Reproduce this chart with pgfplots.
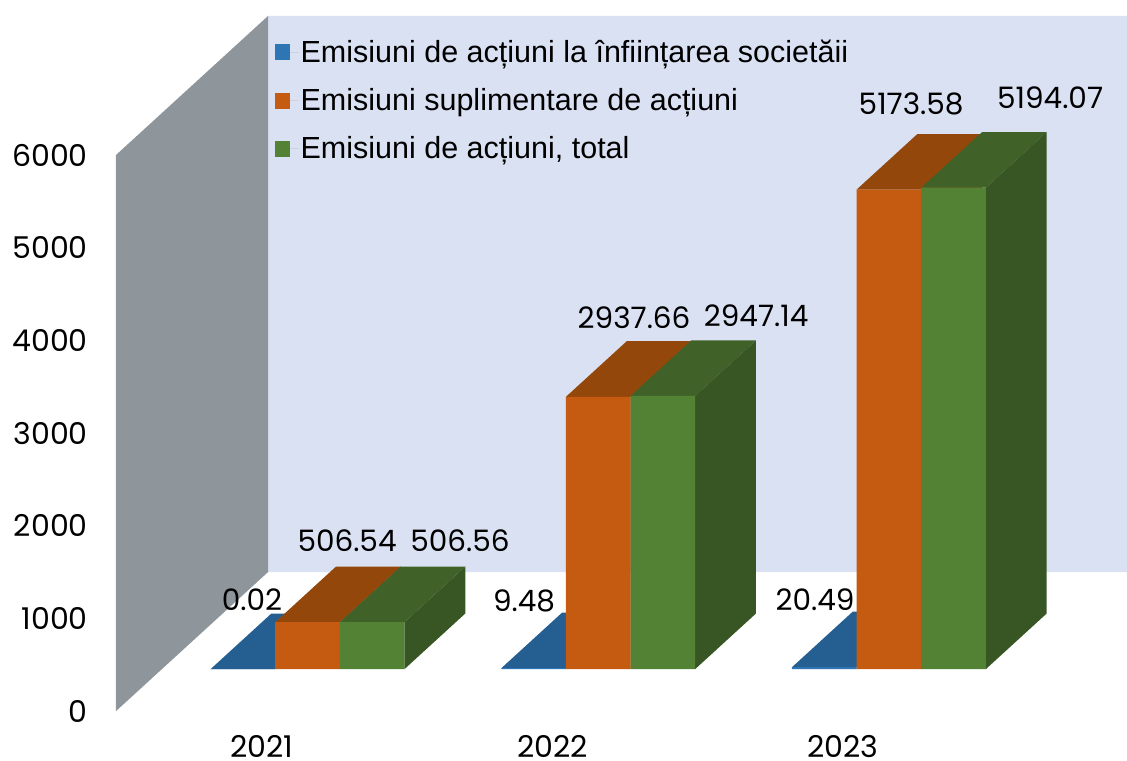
\documentclass[border=0pt]{standalone}
\usepackage{fontspec}
\setmainfont{Poppins}
\newfontfamily\legfont{Liberation Sans}
\usepackage{pgfplots}
\pgfplotsset{compat=1.18}

\definecolor{wallback}{HTML}{DAE1F2}
\definecolor{wallside}{HTML}{8E959B}
\definecolor{bluef}{HTML}{2E75B6}
\definecolor{bluet}{HTML}{255E91}
\definecolor{orangef}{HTML}{C55A11}
\definecolor{oranget}{HTML}{93470B}
\definecolor{greenf}{HTML}{548235}
\definecolor{greent}{HTML}{406128}
\definecolor{greens}{HTML}{375623}

% one box: x0, x1, value, front, top, right side colour
\newcommand{\onebar}[6]{%
  \addplot3[forget plot, draw=none, fill=#5] coordinates {(#1,0.302,#3) (#2,0.302,#3) (#2,0.702,#3) (#1,0.702,#3) (#1,0.302,#3)};
  \addplot3[forget plot, draw=none, fill=#6] coordinates {(#2,0.302,0) (#2,0.702,0) (#2,0.702,#3) (#2,0.302,#3) (#2,0.302,0)};
  \addplot3[forget plot, draw=none, fill=#4] coordinates {(#1,0.302,0) (#2,0.302,0) (#2,0.302,#3) (#1,0.302,#3) (#1,0.302,0)};
}

\begin{document}
\begin{tikzpicture}
\begin{axis}[
  x={(290.65pt,0pt)}, y={(152pt,139pt)}, z={(0pt,0.092667pt)},
  xmin=2020.499, xmax=2023.454, ymin=0, ymax=1, zmin=0, zmax=6000,
  clip=false,
  axis line style={draw=none},
  major tick length=0pt,
  xtick={2021,2022,2023}, ytick=\empty, ztick={0,1000,2000,3000,4000,5000,6000},
  zticklabel pos=left,
  xticklabel pos=lower,
  scaled ticks=false,
  tick label style={font=\fontsize{30}{32}\selectfont, inner sep=0pt, /pgf/number format/assume math mode=true,
    /pgf/number format/fixed, /pgf/number format/1000 sep={}},
  xticklabel style={anchor=center, yshift=-37pt, text height=18pt, text depth=0pt},
  zticklabel style={anchor=east, xshift=-28pt},
  legend image code/.code={\fill[#1, draw=none] (0pt,-8pt) rectangle (15pt,8pt); \path[draw=none] (0pt,0pt) -- (24pt,0pt);},
  legend style={draw=none, fill=none, at={(axis cs:2021.044,0,7262)}, anchor=north west,
    inner sep=0pt, font=\legfont\fontsize{30.5}{34}\selectfont, row sep=20.5pt,
    legend cell align=left},
]
% walls
\addplot3[forget plot, draw=none, fill=wallback] coordinates {(2020.499,1,0) (2023.454,1,0) (2023.454,1,6000) (2020.499,1,6000) (2020.499,1,0)};
\addplot3[forget plot, draw=none, fill=wallside] coordinates {(2020.499,0,0) (2020.499,1,0) (2020.499,1,6000) (2020.499,0,6000) (2020.499,0,0)};
% 2021
\onebar{2020.6665}{2020.8888}{0.02}{bluef}{bluet}{bluet}
\onebar{2020.8888}{2021.1112}{506.54}{orangef}{oranget}{oranget}
\onebar{2021.1112}{2021.3335}{506.56}{greenf}{greent}{greens}
% 2022
\onebar{2021.6665}{2021.8888}{9.48}{bluef}{bluet}{bluet}
\onebar{2021.8888}{2022.1112}{2937.66}{orangef}{oranget}{oranget}
\onebar{2022.1112}{2022.3335}{2947.14}{greenf}{greent}{greens}
% 2023
\onebar{2022.6665}{2022.8888}{20.49}{bluef}{bluet}{bluet}
\onebar{2022.8888}{2023.1112}{5173.58}{orangef}{oranget}{oranget}
\onebar{2023.1112}{2023.3335}{5194.07}{greenf}{greent}{greens}
\addlegendimage{fill=bluef}
\addlegendentry{Emisiuni de acțiuni la înființarea societăii}
\addlegendimage{fill=orangef}
\addlegendentry{Emisiuni suplimentare de acțiuni}
\addlegendimage{fill=greenf}
\addlegendentry{Emisiuni de acțiuni, total}
\coordinate (tl) at (axis cs:2020.100,0,7672.6);
\coordinate (br) at (axis cs:2023.977,0,-528.8);
\end{axis}
\pgfresetboundingbox
\useasboundingbox (tl) rectangle (br);
% data labels, placed in picture pixels from the top left corner
\begin{scope}[shift={(tl)}, x=1pt, y=-1pt, every node/.style={font=\fontsize{29.5}{32}\selectfont, inner sep=0pt}]
\node at (252,600) {0.02};
\node at (347,541) {506.54};
\node at (460,541) {506.56};
\node at (524,601) {9.48};
\node at (634,318) {2937.66};
\node at (756,316) {2947.14};
\node at (815,600) {20.49};
\node at (911,104) {5173.58};
\node at (1050,98) {5194.07};
\end{scope}
\end{tikzpicture}
\end{document}
